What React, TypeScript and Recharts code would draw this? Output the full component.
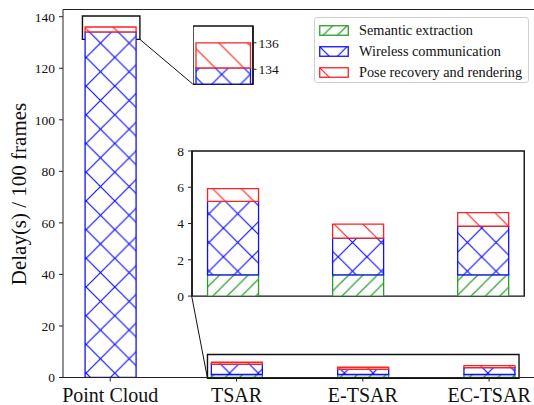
import React from "react";
import {
  BarChart,
  Bar,
  XAxis,
  YAxis,
  ReferenceArea,
  ReferenceLine,
} from "recharts";

// values (seconds per 100 frames)
const categories = ["Point Cloud", "TSAR", "E-TSAR", "EC-TSAR"];
const semantic = [0, 1.17, 1.17, 1.17];
const wireless = [134.1, 4.05, 2.03, 2.69];
const pose = [1.9, 0.7, 0.77, 0.74];
const seriesNames = [
  "Semantic extraction",
  "Wireless communication",
  "Pose recovery and rendering",
];

const mainTicks = [0, 20, 40, 60, 80, 100, 120, 140];
const topZoomTicks = [134, 136];
const bottomZoomTicks = [0, 2, 4, 6, 8];

const data = categories.map((name, i) => ({
  x: i,
  name,
  sem: semantic[i],
  wire: wireless[i],
  pose: pose[i],
}));

const FONT = "Liberation Serif, Times New Roman, serif";
const GREEN = "#2a9d2a";
const BLUE = "#1010ff";
const RED = "#ff2020";
const AXIS = "#222";

// main axes geometry
const W = 541;
const H = 405;
const LEFT = 63;
const TOP = 9.5;
const BOTTOM = 377.5;
const X_DOM: [number, number] = [-0.374, 3.411];
const Y_DOM: [number, number] = [0, 142.8];

// inset placement + marked regions, in main data coordinates
const zoomTop = { x: [0.653, 1.128], y: [113.9, 136.5] };
const zoomBottom = { x: [0.645, 3.276], y: [31.6, 87.9] };
const markTop = { x: [-0.22, 0.235], y: [131.2, 140.3] };
const markBottom = { x: [0.77, 3.237], y: [-0.3, 8.9] };

const TOP_Y: [number, number] = [132.87, 137.27];
const BOT_X: [number, number] = [0.6715, 3.328];
const BOT_Y: [number, number] = [0, 8];

const px = (x: number) =>
  LEFT + ((x - X_DOM[0]) / (X_DOM[1] - X_DOM[0])) * (W - LEFT);
const py = (y: number) =>
  BOTTOM - ((y - Y_DOM[0]) / (Y_DOM[1] - Y_DOM[0])) * (BOTTOM - TOP);

const P = 28.7;
const slash = (p: number) =>
  `M-1,${p + 1} L${p + 1},-1 M-1,1 L1,-1 M${p - 1},${p + 1} L${p + 1},${p - 1}`;
const back = (p: number) =>
  `M-1,-1 L${p + 1},${p + 1} M${p - 1},-1 L${p + 1},1 M-1,${p - 1} L1,${p + 1}`;

const Hatches = ({ id }: { id: string }) => (
  <defs>
    <pattern id={`${id}-sem`} patternUnits="userSpaceOnUse" width={P / 2} height={P / 2}>
      <rect width={P / 2} height={P / 2} fill="#fff" />
      <path d={slash(P / 2)} stroke={GREEN} strokeWidth={1.2} fill="none" />
    </pattern>
    <pattern id={`${id}-wire`} patternUnits="userSpaceOnUse" width={P} height={P}>
      <rect width={P} height={P} fill="#fff" />
      <path d={slash(P) + " " + back(P)} stroke={BLUE} strokeWidth={1.2} fill="none" />
    </pattern>
    <pattern id={`${id}-pose`} patternUnits="userSpaceOnUse" width={P} height={P}>
      <rect width={P} height={P} fill="#fff" />
      <path d={back(P)} stroke={RED} strokeWidth={1.2} fill="none" />
    </pattern>
  </defs>
);

const stackBars = (id: string, size: number) => [
  <Bar key="sem" dataKey="sem" stackId="s" fill={`url(#${id}-sem)`} stroke={GREEN} strokeWidth={1.3} barSize={size} isAnimationActive={false} />,
  <Bar key="wire" dataKey="wire" stackId="s" fill={`url(#${id}-wire)`} stroke={BLUE} strokeWidth={1.3} barSize={size} isAnimationActive={false} />,
  <Bar key="pose" dataKey="pose" stackId="s" fill={`url(#${id}-pose)`} stroke={RED} strokeWidth={1.3} barSize={size} isAnimationActive={false} />,
];

const tickStyle = { fill: "#111", fontSize: 13.5, fontFamily: FONT };

const legendKeys = ["sem", "wire", "pose"];
const legendColors = [GREEN, BLUE, RED];

// room above each inset so its top tick label is not clipped
const PAD = 9;

export default function App() {
  const t1 = {
    left: px(zoomTop.x[0]),
    top: py(zoomTop.y[1]),
    w: px(zoomTop.x[1]) - px(zoomTop.x[0]),
    h: py(zoomTop.y[0]) - py(zoomTop.y[1]),
  };
  const t2 = {
    left: px(zoomBottom.x[0]),
    top: py(zoomBottom.y[1]),
    w: px(zoomBottom.x[1]) - px(zoomBottom.x[0]),
    h: py(zoomBottom.y[0]) - py(zoomBottom.y[1]),
  };
  const rightAxisW = 34;
  const leftAxisW = 26;

  return (
    <div
      style={{
        position: "fixed",
        left: 0,
        top: 0,
        width: 534,
        height: 405,
        overflow: "hidden",
        background: "#fff",
        fontFamily: FONT,
      }}
    >
      <BarChart width={W} height={H} data={data} margin={{ top: TOP, right: 0, bottom: 0, left: 0 }} style={{ fontFamily: FONT }}>
        <Hatches id="m" />
        <XAxis
          dataKey="x"
          type="number"
          domain={X_DOM}
          allowDataOverflow
          ticks={[0, 1, 2, 3]}
          interval={0}
          tickFormatter={(v: number) => categories[v]}
          height={H - BOTTOM}
          tickSize={4}
          tickMargin={6}
          stroke={AXIS}
          tick={{ fill: "#111", fontSize: 20, fontFamily: FONT }}
        />
        <YAxis
          type="number"
          domain={Y_DOM}
          allowDataOverflow
          ticks={mainTicks}
          interval={0}
          width={LEFT}
          tickSize={4}
          tickMargin={4}
          stroke={AXIS}
          tick={tickStyle}
        />
        <ReferenceLine y={Y_DOM[1]} stroke={AXIS} strokeWidth={1} ifOverflow="visible" />
        {stackBars("m", 51)}
        <ReferenceArea x1={markTop.x[0]} x2={markTop.x[1]} y1={markTop.y[0]} y2={markTop.y[1]} fill="none" fillOpacity={0} stroke="#111" strokeWidth={1.4} ifOverflow="visible" />
        <ReferenceArea x1={markBottom.x[0]} x2={markBottom.x[1]} y1={markBottom.y[0]} y2={markBottom.y[1]} fill="none" fillOpacity={0} stroke="#111" strokeWidth={1.4} ifOverflow="visible" />
        <ReferenceLine
          segment={[
            { x: markTop.x[1], y: markTop.y[0] },
            { x: zoomTop.x[0], y: zoomTop.y[0] },
          ]}
          stroke="#111"
          strokeWidth={1}
          ifOverflow="visible"
        />
        <ReferenceLine
          segment={[
            { x: markBottom.x[0], y: markBottom.y[0] },
            { x: zoomBottom.x[0], y: zoomBottom.y[0] },
          ]}
          stroke="#111"
          strokeWidth={1}
          ifOverflow="visible"
        />
      </BarChart>

      {/* zoom on the top of the Point Cloud bar */}
      <div style={{ position: "absolute", left: t1.left, top: t1.top - PAD }}>
        <BarChart width={t1.w + rightAxisW} height={t1.h + 4 + PAD} data={data.slice(0, 1)} margin={{ top: PAD, right: 0, bottom: 0, left: 0 }} style={{ fontFamily: FONT }}>
          <Hatches id="t" />
          <XAxis dataKey="name" type="category" height={4} tick={false} tickSize={3} axisLine={false} stroke={AXIS} />
          <YAxis
            orientation="right"
            type="number"
            domain={TOP_Y}
            allowDataOverflow
            ticks={topZoomTicks}
            interval={0}
            width={rightAxisW}
            tickSize={3.5}
            tickMargin={2}
            axisLine={{ stroke: "#111", strokeWidth: 1.4 }}
            stroke={AXIS}
            tick={tickStyle}
          />
          {stackBars("t", 54.5)}
          <ReferenceArea y1={TOP_Y[0]} y2={TOP_Y[1]} fill="none" fillOpacity={0} stroke="#111" strokeWidth={1.4} ifOverflow="visible" />
        </BarChart>
      </div>

      {/* zoom on the three small bars */}
      <div style={{ position: "absolute", left: t2.left - leftAxisW, top: t2.top - PAD }}>
        <BarChart width={t2.w + leftAxisW + 2} height={t2.h + 8 + PAD} data={data.slice(1)} margin={{ top: PAD, right: 2, bottom: 8, left: 0 }} style={{ fontFamily: FONT }}>
          <Hatches id="b" />
          <XAxis dataKey="x" type="number" domain={BOT_X} allowDataOverflow ticks={[1, 2, 3]} hide />
          <YAxis
            type="number"
            domain={BOT_Y}
            allowDataOverflow
            ticks={bottomZoomTicks}
            interval={0}
            width={leftAxisW}
            tickSize={4}
            tickMargin={4}
            axisLine={{ stroke: "#111", strokeWidth: 1.4 }}
            stroke={AXIS}
            tick={tickStyle}
          />
          {stackBars("b", 51)}
          <ReferenceArea x1={BOT_X[0]} x2={BOT_X[1]} y1={BOT_Y[0]} y2={BOT_Y[1]} fill="none" fillOpacity={0} stroke="#111" strokeWidth={1.4} ifOverflow="visible" />
        </BarChart>
      </div>

      {/* y label */}
      <div
        style={{
          position: "absolute",
          left: 19,
          top: 194,
          transform: "translate(-50%, -50%) rotate(-90deg)",
          whiteSpace: "nowrap",
          fontSize: 21,
          lineHeight: 1,
          color: "#111",
        }}
      >
        Delay(s) / 100 frames
      </div>

      {/* legend */}
      <div
        style={{
          position: "absolute",
          left: 314,
          top: 17,
          width: 213,
          height: 64,
          border: "1px solid #d0d0d0",
          borderRadius: 3,
          background: "rgba(255,255,255,0.85)",
        }}
      >
        {seriesNames.map((s, i) => (
          <div
            key={s}
            style={{
              position: "absolute",
              left: 4,
              top: 4 + i * 21.4,
              height: 16,
              display: "flex",
              alignItems: "center",
              whiteSpace: "nowrap",
            }}
          >
            <svg width={30} height={11} style={{ marginRight: 10 }}>
              <rect x={0.75} y={0.75} width={28.5} height={9.5} fill={`url(#m-${legendKeys[i]})`} stroke={legendColors[i]} strokeWidth={1.3} />
            </svg>
            <span style={{ fontSize: 14.3, color: "#111" }}>{s}</span>
          </div>
        ))}
      </div>
    </div>
  );
}
